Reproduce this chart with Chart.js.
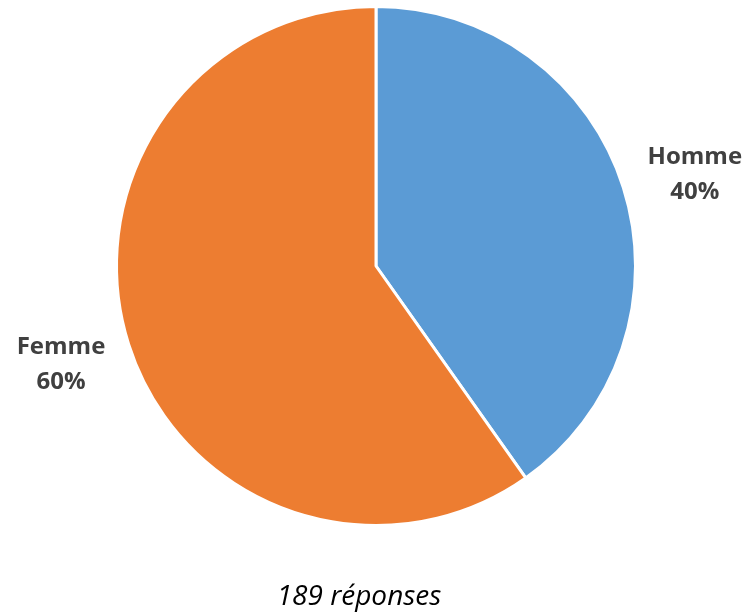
<!DOCTYPE html>
<html><head><meta charset="utf-8">
<script src="https://cdn.jsdelivr.net/npm/chart.js@4/dist/chart.umd.min.js"></script>
<style>html,body{margin:0;padding:0;background:#fff;}canvas{display:block;}</style>
</head><body>
<canvas id="c" width="747" height="613"></canvas>
<script>
const categories = ["Homme", "Femme"];
const values = [76, 113];
const percentLabels = ["40%", "60%"];
const colors = ["#5B9BD5", "#ED7D31"];
const caption = "189 réponses";

const labelPlugin = {
  id: 'outerLabels',
  afterDraw(chart) {
    const ctx = chart.ctx;
    const meta = chart.getDatasetMeta(0);
    const extraR = [75, 71];
    const dy = [9, -2];
    ctx.save();
    ctx.fillStyle = '#404040';
    ctx.font = 'bold 24px "Open Sans"';
    ctx.textAlign = 'center';
    ctx.textBaseline = 'middle';
    meta.data.forEach((arc, i) => {
      const mid = (arc.startAngle + arc.endAngle) / 2;
      const r = arc.outerRadius + extraR[i];
      const x = arc.x + Math.cos(mid) * r;
      const y = arc.y + Math.sin(mid) * r + dy[i];
      ctx.fillText(categories[i], x, y - 17);
      ctx.fillText(percentLabels[i], x, y + 18);
    });
    ctx.font = 'italic 28px "Open Sans"';
    ctx.fillStyle = '#000';
    ctx.fillText(caption, 359, 597);
    ctx.restore();
  }
};

new Chart(document.getElementById('c'), {
  type: 'pie',
  data: {
    labels: categories,
    datasets: [{
      data: values,
      backgroundColor: colors,
      borderColor: '#ffffff',
      borderWidth: 3
    }]
  },
  options: {
    responsive: false,
    animation: false,
    layout: { padding: { left: 115, right: 110, top: 5, bottom: 86 } },
    plugins: { legend: { display: false }, tooltip: { enabled: false } }
  },
  plugins: [labelPlugin]
});
</script>
</body></html>
